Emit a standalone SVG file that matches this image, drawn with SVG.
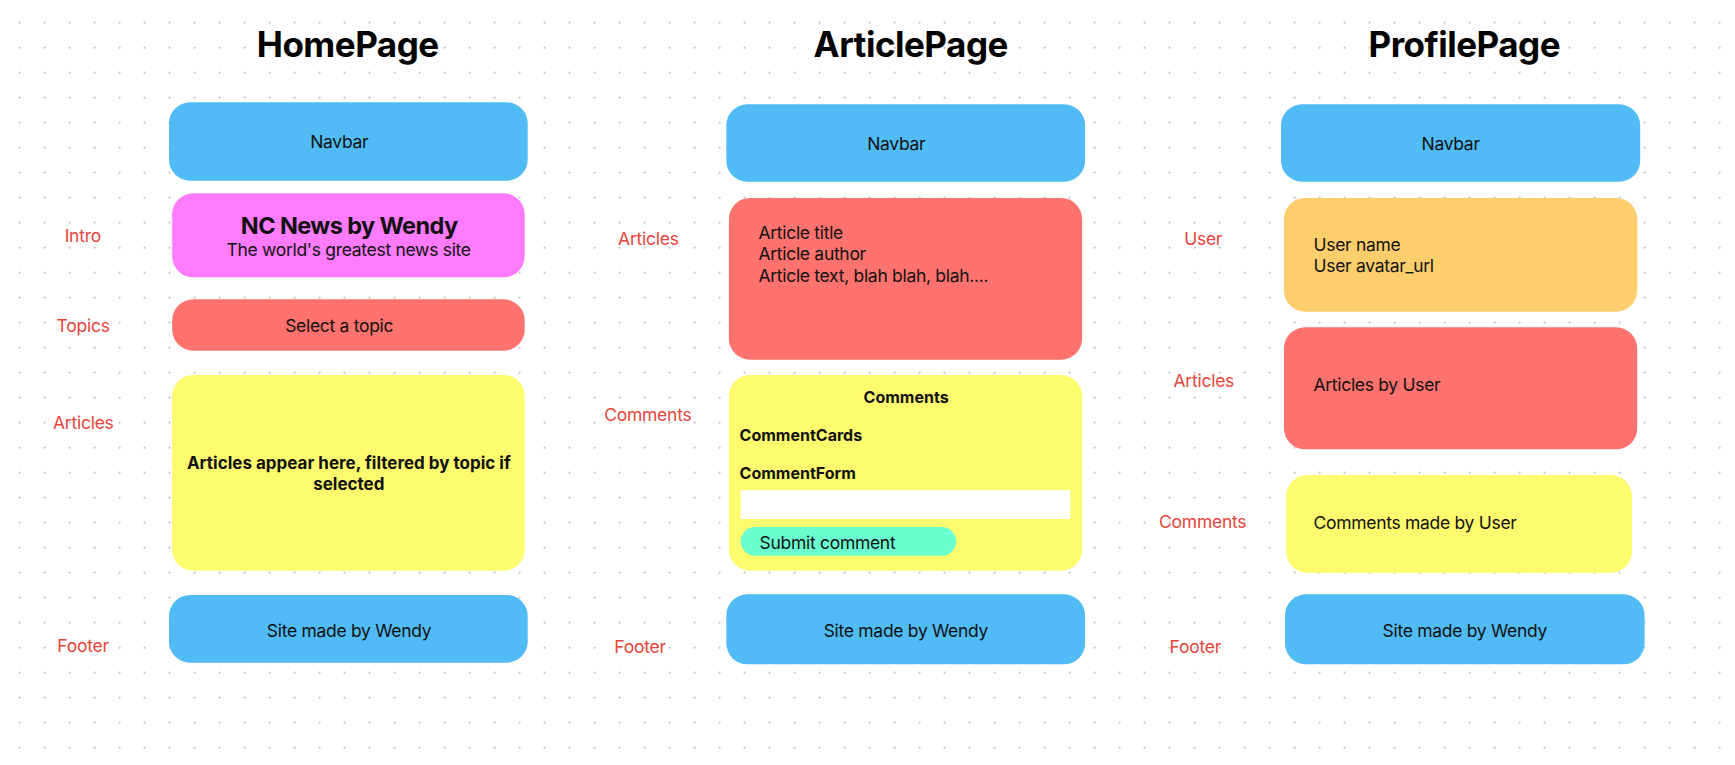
<svg xmlns="http://www.w3.org/2000/svg" width="1735" height="765" viewBox="0 0 1735 765">
  <defs>
    <pattern id="dots" x="0" y="0" width="25" height="25" patternUnits="userSpaceOnUse">
      <circle cx="19.6" cy="22.7" r="1.1" fill="#c6c6c6"/>
    </pattern>
    <style>
      text { font-family: Inter, "Noto Sans", "Liberation Sans", sans-serif; fill: #111; }
      .title { font-size: 35px; font-weight: 700; text-anchor: middle; fill: #000; letter-spacing: -0.5px; }
      .lbl { font-size: 17.5px; fill: #e5453a; text-anchor: middle; letter-spacing: -0.25px; }
      .txt { font-size: 17.5px; letter-spacing: -0.3px; }
      .mid { text-anchor: middle; }
      .b { font-weight: 700; }
      .blue { fill: #50bbf5; }
      .pink { fill: #ff7bfd; }
      .red { fill: #ff726d; }
      .yellow { fill: #fffb6e; }
      .orange { fill: #fece6d; }
    </style>
  </defs>

  <!-- canvas background with dot grid -->
  <rect width="1735" height="765" fill="#ffffff"/>
  <rect width="1735" height="765" fill="url(#dots)"/>

  <!-- page headings -->
  <text class="title" x="347.7" y="57.3">HomePage</text>
  <text class="title" x="910.7" y="57.3">ArticlePage</text>
  <text class="title" x="1464.3" y="57.3">ProfilePage</text>

  <!-- section labels -->
  <g id="labels">
    <text class="lbl" x="82.8" y="242.3">Intro</text>
    <text class="lbl" x="83.1" y="331.7">Topics</text>
    <text class="lbl" x="83.3" y="429">Articles</text>
    <text class="lbl" x="83.1" y="651.7">Footer</text>

    <text class="lbl" x="648.4" y="245">Articles</text>
    <text class="lbl" x="647.8" y="421">Comments</text>
    <text class="lbl" x="640" y="653.3">Footer</text>

    <text class="lbl" x="1203.2" y="245">User</text>
    <text class="lbl" x="1203.8" y="386.7">Articles</text>
    <text class="lbl" x="1202.7" y="528.3">Comments</text>
    <text class="lbl" x="1195.3" y="653.3">Footer</text>
  </g>

  <!-- HomePage -->
  <g id="home-navbar">
    <rect class="blue" x="169" y="102.3" width="358.7" height="78.4" rx="21"/>
    <text class="txt mid" x="339.3" y="148.3">Navbar</text>
  </g>
  <g id="home-intro">
    <rect class="pink" x="172.2" y="193.3" width="352.5" height="84" rx="21"/>
    <text class="mid b" x="349.2" y="234.3" font-size="23.5" letter-spacing="-0.6">NC News by Wendy</text>
    <text class="txt mid" x="348.6" y="256">The world's greatest news site</text>
  </g>
  <g id="home-topics">
    <rect class="red" x="172.2" y="299.3" width="352.5" height="51.4" rx="21"/>
    <text class="txt mid" x="339.2" y="331.7">Select a topic</text>
  </g>
  <g id="home-articles">
    <rect class="yellow" x="172.2" y="375" width="352.5" height="195.7" rx="21"/>
    <text class="mid b" x="348.8" y="469" font-size="17">Articles appear here, filtered by topic if</text>
    <text class="mid b" x="348.8" y="489.7" font-size="17">selected</text>
  </g>
  <g id="home-footer">
    <rect class="blue" x="169" y="595" width="358.7" height="67.7" rx="21"/>
    <text class="txt mid" x="349" y="636.7">Site made by Wendy</text>
  </g>

  <!-- ArticlePage -->
  <g id="article-navbar">
    <rect class="blue" x="726.3" y="104.3" width="358.8" height="77.4" rx="21"/>
    <text class="txt mid" x="896.3" y="150">Navbar</text>
  </g>
  <g id="article-body">
    <rect class="red" x="728.9" y="198" width="353.2" height="161.7" rx="21"/>
    <text class="txt" x="758.5" y="239.3">Article title</text>
    <text class="txt" x="758.5" y="260.3">Article author</text>
    <text class="txt" x="758.5" y="281.7">Article text, blah blah, blah....</text>
  </g>
  <g id="article-comments">
    <rect class="yellow" x="728.9" y="375" width="353.2" height="195.7" rx="21"/>
    <text class="mid b" x="906.1" y="402.7" font-size="16">Comments</text>
    <text class="b" x="739.6" y="440.7" font-size="16">CommentCards</text>
    <text class="b" x="739.6" y="479" font-size="16">CommentForm</text>
    <rect x="740.7" y="490" width="329.7" height="29" fill="#ffffff"/>
    <rect x="740.7" y="527" width="215.5" height="28.7" rx="14.35" fill="#6bffcf"/>
    <text class="txt" x="759.6" y="548.7">Submit comment</text>
  </g>
  <g id="article-footer">
    <rect class="blue" x="726.3" y="594.3" width="358.8" height="70" rx="21"/>
    <text class="txt mid" x="905.9" y="636.7">Site made by Wendy</text>
  </g>

  <!-- ProfilePage -->
  <g id="profile-navbar">
    <rect class="blue" x="1281" y="104.3" width="359.2" height="77.4" rx="21"/>
    <text class="txt mid" x="1450.6" y="150">Navbar</text>
  </g>
  <g id="profile-user">
    <rect class="orange" x="1284" y="198" width="353.2" height="113.7" rx="21"/>
    <text class="txt" x="1313.5" y="251">User name</text>
    <text class="txt" x="1313.5" y="272">User avatar_url</text>
  </g>
  <g id="profile-articles">
    <rect class="red" x="1284" y="327.3" width="353.2" height="122" rx="21"/>
    <text class="txt" x="1313.5" y="390.7">Articles by User</text>
  </g>
  <g id="profile-comments">
    <rect class="yellow" x="1286.2" y="475" width="345.8" height="97.7" rx="21"/>
    <text class="txt" x="1313.5" y="529">Comments made by User</text>
  </g>
  <g id="profile-footer">
    <rect class="blue" x="1285" y="594.3" width="359.6" height="70" rx="21"/>
    <text class="txt mid" x="1464.8" y="636.7">Site made by Wendy</text>
  </g>

  <!-- no connectors between the page sections -->
  <g id="connectors"/>
</svg>
